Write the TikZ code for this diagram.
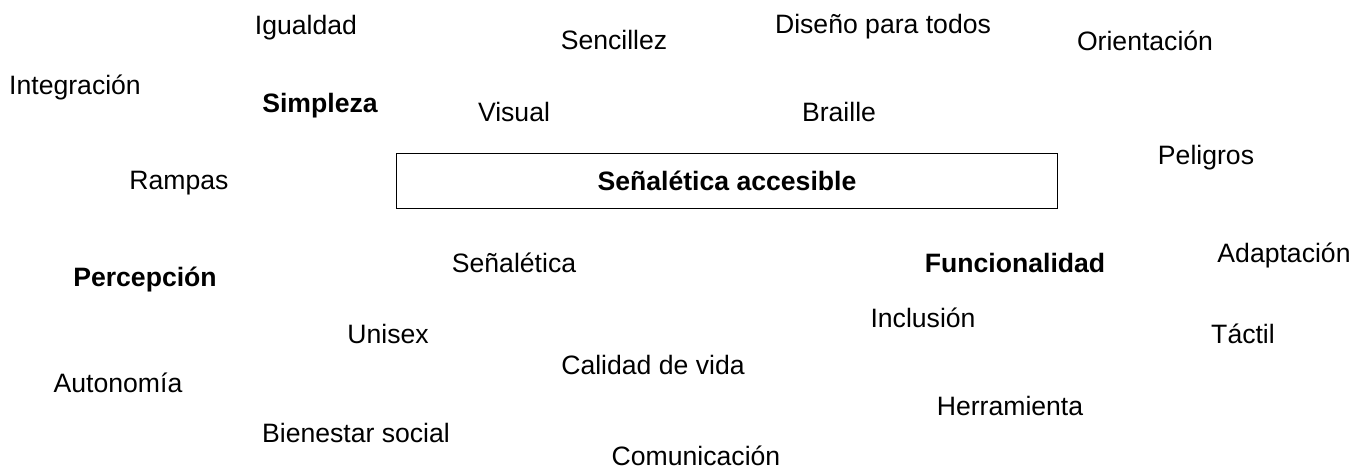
\documentclass[tikz,border=0pt]{standalone}
\usepackage{fontspec}
\setmainfont{Liberation Sans}
\begin{document}
\begin{tikzpicture}[x=0.5pt,y=-0.5pt,
  w/.style={inner sep=0pt,text height=0.716em,text depth=0pt,anchor=center,font=\fontsize{13.3}{15}\selectfont},
  wb/.style={w,font=\fontsize{13.3}{15}\selectfont\bfseries},
  mainbox/.style={draw,line width=0.5pt}]
\useasboundingbox (0,0) rectangle (1368,472);
\node[mainbox,minimum width=330.5pt,minimum height=27.5pt,inner sep=0pt] (box) at (726.5,180.5) {};
\node[wb] (sa) at (727,183) {Señalética accesible};
\node[w] (igualdad) at (306,27) {Igualdad};
\node[w] (sencillez) at (614,42) {Sencillez};
\node[w] (diseno) at (883,26) {Diseño para todos};
\node[w] (orientacion) at (1145,43) {Orientación};
\node[w] (integracion) at (75,87) {Integración};
\node[wb] (simpleza) at (320,105) {Simpleza};
\node[w] (visual) at (514,114) {Visual};
\node[w] (braille) at (839,114) {Braille};
\node[w] (peligros) at (1206,157) {Peligros};
\node[w] (rampas) at (179,182) {Rampas};
\node[w] (adaptacion) at (1284,255) {Adaptación};
\node[wb] (funcionalidad) at (1015,265) {Funcionalidad};
\node[w] (senaletica) at (514,265) {Señalética};
\node[wb] (percepcion) at (145,279) {Percepción};
\node[w] (inclusion) at (923,320) {Inclusión};
\node[w] (tactil) at (1243,336) {Táctil};
\node[w] (unisex) at (388,336) {Unisex};
\node[w] (calidad) at (653,367) {Calidad de vida};
\node[w] (autonomia) at (118,385) {Autonomía};
\node[w] (herramienta) at (1010,408) {Herramienta};
\node[w] (bienestar) at (356,435) {Bienestar social};
\node[w] (comunicacion) at (696,458) {Comunicación};
\end{tikzpicture}
\end{document}
